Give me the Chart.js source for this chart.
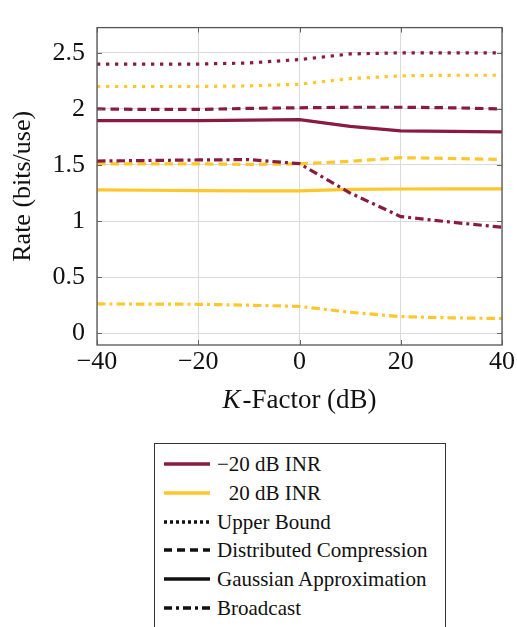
<!DOCTYPE html>
<html>
<head>
<meta charset="utf-8">
<script src="https://cdn.jsdelivr.net/npm/chart.js@4.4.1/dist/chart.umd.min.js"></script>
<style>
  body { margin: 0; background: #fff; width: 517px; height: 627px; overflow: hidden; position: relative; }
  #wrap { position: absolute; left: 0; top: 0; width: 517px; height: 430px; }
  #leyenda { position: absolute; left: 154px; top: 443px; width: 290px; height: 200px;
    border: 1px solid #333; font-family: "Liberation Serif", "Times New Roman", serif; font-size: 21px; color: #111; }
  .fila { position: absolute; left: 0; height: 24px; width: 100%; }
  .fila > svg { position: absolute; left: 9px; top: 0; }
  .fila > span { position: absolute; left: 62px; top: 0; line-height: 24px; white-space: nowrap; }
</style>
</head>
<body>
<div id="wrap"><canvas id="grafica" width="517" height="430"></canvas></div>
<div id="leyenda"></div>
<script>
// K-factor (dB)
const kFactor = [-40, -30, -20, -10, 0, 10, 20, 30, 40];

// -20 dB INR
const cotaSuperiorBaja = [2.40, 2.40, 2.40, 2.41, 2.44, 2.49, 2.50, 2.50, 2.50];
const compresionBaja   = [2.00, 1.995, 1.995, 2.005, 2.01, 2.015, 2.015, 2.01, 2.00];
const gaussianaBaja    = [1.895, 1.895, 1.895, 1.90, 1.905, 1.845, 1.805, 1.80, 1.795];
const difusionBaja     = [1.535, 1.54, 1.545, 1.548, 1.512, 1.25, 1.04, 0.99, 0.945];

// 20 dB INR
const cotaSuperiorAlta = [2.20, 2.20, 2.20, 2.205, 2.22, 2.27, 2.295, 2.30, 2.30];
const compresionAlta   = [1.51, 1.51, 1.51, 1.505, 1.51, 1.533, 1.565, 1.558, 1.55];
const gaussianaAlta    = [1.278, 1.275, 1.272, 1.27, 1.27, 1.283, 1.286, 1.287, 1.287];
const difusionAlta     = [0.261, 0.26, 0.258, 0.25, 0.239, 0.187, 0.148, 0.137, 0.131];

const ticksX = [-40, -20, 0, 20, 40];
const ticksY = [0, 0.5, 1, 1.5, 2, 2.5];

const GRANATE = "#891b43";
const AMARILLO = "#ffc72c";
const PUNTEADO = [3.3, 5.7];
const DISCONTINUO = [8.5, 5];
const PUNTO_RAYA = [8.5, 4, 3, 4];
const SERIF = "'Liberation Serif', 'Times New Roman', serif";

function serie(nombre, valores, color, trazo) {
    return {
        label: nombre,
        data: kFactor.map((k, i) => ({ x: k, y: valores[i] })),
        borderColor: color,
        borderWidth: 3.2,
        borderDash: trazo,
        borderCapStyle: "butt",
        pointRadius: 0,
        tension: 0,
        fill: false
    };
}

const fuenteTicks = { family: SERIF, size: 26 };

// Marco completo, marcas de escala y titulo del eje x (K en cursiva)
const marco = {
    id: "marco",
    afterDraw(chart) {
        const c = chart.ctx;
        const a = chart.chartArea;
        const sx = chart.scales.x, sy = chart.scales.y;
        c.save();
        c.strokeStyle = "#666";
        c.lineWidth = 1;
        ticksX.forEach(v => {
            const px = Math.round(sx.getPixelForValue(v)) + 0.5;
            c.beginPath();
            c.moveTo(px, a.bottom); c.lineTo(px, a.bottom - 5);
            c.moveTo(px, a.top); c.lineTo(px, a.top + 5);
            c.stroke();
        });
        ticksY.forEach(v => {
            const py = Math.round(sy.getPixelForValue(v)) + 0.5;
            c.beginPath();
            c.moveTo(a.left, py); c.lineTo(a.left + 5, py);
            c.moveTo(a.right, py); c.lineTo(a.right - 5, py);
            c.stroke();
        });
        c.strokeStyle = "#555";
        c.lineWidth = 1.3;
        c.strokeRect(a.left, a.top, a.right - a.left, a.bottom - a.top);

        const cx = (a.left + a.right) / 2;
        const y = 401;
        c.fillStyle = "#111";
        c.textBaseline = "middle";
        c.textAlign = "left";
        c.font = "italic 27px " + SERIF;
        const wk = c.measureText("K").width;
        c.font = "27px " + SERIF;
        const resto = "-Factor (dB)";
        const wr = c.measureText(resto).width;
        const x0 = cx - (wk + wr + 2) / 2;
        c.font = "italic 27px " + SERIF;
        c.fillText("K", x0, y);
        c.font = "27px " + SERIF;
        c.fillText(resto, x0 + wk + 2, y);
        c.restore();
    }
};

const ctx = document.getElementById("grafica").getContext("2d");
new Chart(ctx, {
    type: "line",
    data: {
        datasets: [
            serie("UB -20", cotaSuperiorBaja, GRANATE, PUNTEADO),
            serie("UB 20", cotaSuperiorAlta, AMARILLO, PUNTEADO),
            serie("DC -20", compresionBaja, GRANATE, DISCONTINUO),
            serie("GA -20", gaussianaBaja, GRANATE, []),
            serie("BC -20", difusionBaja, GRANATE, PUNTO_RAYA),
            serie("DC 20", compresionAlta, AMARILLO, DISCONTINUO),
            serie("GA 20", gaussianaAlta, AMARILLO, []),
            serie("BC 20", difusionAlta, AMARILLO, PUNTO_RAYA)
        ]
    },
    options: {
        responsive: false,
        animation: false,
        layout: { padding: { left: 0, right: 15, top: 12, bottom: 0 } },
        plugins: { legend: { display: false }, tooltip: { enabled: false } },
        scales: {
            x: {
                type: "linear",
                min: -40,
                max: 40,
                afterBuildTicks: s => { s.ticks = ticksX.map(v => ({ value: v })); },
                afterFit: s => { s.height = 85; },
                ticks: {
                    font: fuenteTicks,
                    color: "#111",
                    padding: 2,
                    maxRotation: 0,
                    callback: v => (v < 0 ? "\u2212" + Math.abs(v) : String(v))
                },
                grid: { color: "#dadada", lineWidth: 1, drawTicks: false },
                border: { display: false }
            },
            y: {
                min: -0.105,
                max: 2.725,
                afterBuildTicks: s => { s.ticks = ticksY.map(v => ({ value: v })); },
                afterFit: s => { s.width = 97; },
                ticks: {
                    font: fuenteTicks,
                    color: "#111",
                    padding: 12,
                    callback: v => String(v)
                },
                grid: { color: "#dadada", lineWidth: 1, drawTicks: false },
                border: { display: false },
                title: {
                    display: true,
                    text: "Rate (bits/use)",
                    font: { family: SERIF, size: 26 },
                    color: "#111",
                    padding: { top: 8, bottom: 0 }
                }
            }
        }
    },
    plugins: [marco]
});

// Leyenda
const entradas = [
    { texto: "\u221220 dB INR", color: GRANATE, trazo: "" },
    { texto: "<i style='visibility:hidden;font-style:normal'>\u2212</i>20 dB INR", color: AMARILLO, trazo: "" },
    { texto: "Upper Bound", color: "#111", trazo: "3,3" },
    { texto: "Distributed Compression", color: "#111", trazo: "8,5" },
    { texto: "Gaussian Approximation", color: "#111", trazo: "" },
    { texto: "Broadcast", color: "#111", trazo: "8,4,3,4" }
];
const contenedor = document.getElementById("leyenda");
entradas.forEach((e, i) => {
    const fila = document.createElement("div");
    fila.className = "fila";
    fila.style.top = (8 + i * 28.8) + "px";
    fila.innerHTML = `<svg width="48" height="24"><line x1="0" y1="12" x2="46" y2="12" stroke="${e.color}" stroke-width="3.4" ${e.trazo ? `stroke-dasharray="${e.trazo}"` : ""}/></svg><span>${e.texto}</span>`;
    contenedor.appendChild(fila);
});
</script>
</body>
</html>
